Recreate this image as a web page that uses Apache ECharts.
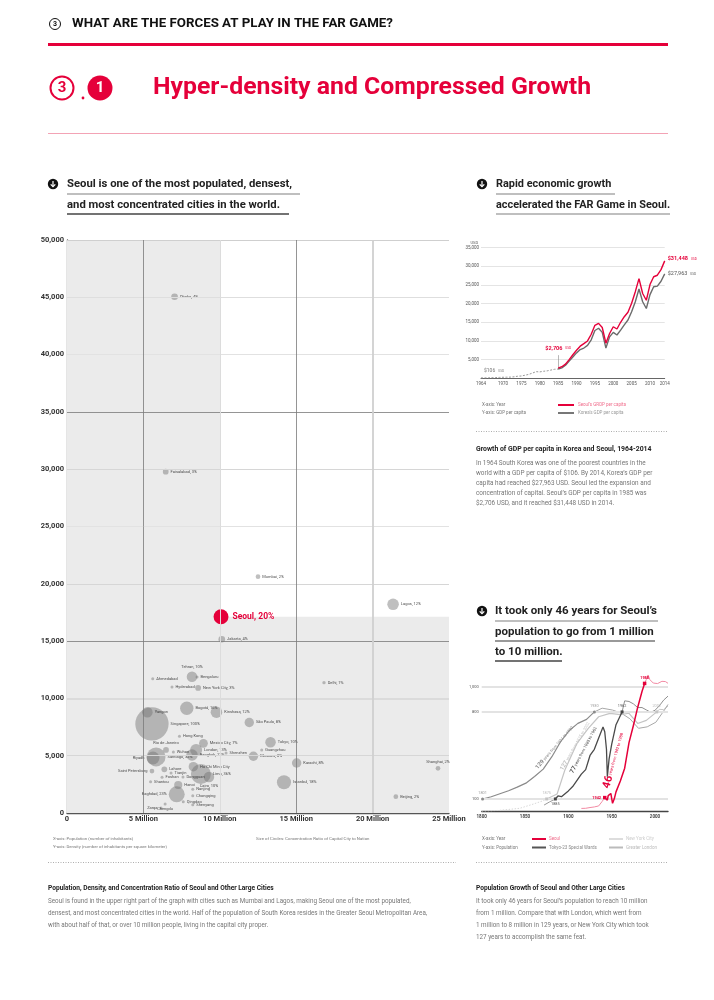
<!DOCTYPE html>
<html><head><meta charset="utf-8">
<script src="https://cdn.jsdelivr.net/npm/echarts@6/dist/echarts.min.js"></script>
<style>html,body{margin:0;padding:0;background:#fff}#c{width:714px;height:1000px}</style>
</head><body><div id="c"></div>
<script>
// ================= DATA =================
// Scatter: population (millions), density (inhabitants / km2), concentration ratio (%)
const cities = ['Dhaka','Faisalabad','Mumbai','Seoul','Jakarta','Lagos','Delhi','Tehran','Bengaluru','Ahmedabad','Hyderabad','New York City','Bogotá','Kinshasa','Yangon','Singapore','São Paulo','Hong Kong','Mexico City','Rio de Janeiro','Wuhan','London','Shenzhen','Guangzhou','Moscow','Tokyo','Karachi','Istanbul','Shanghai','Beijing','Riyadh','Santiago','Bangkok','Ho Chi Minh City','Lima','Dongguan','Cairo','Lahore','Tianjin','Foshan','Shantou','Saint Petersburg','Hanoi','Baghdad','Nanjing','Chongqing','Qingdao','Shenyang','Zarqa','Chengdu'];
const populationM = [7.04,6.46,12.5,10.08,10.13,21.34,16.82,8.18,8.51,5.61,6.87,8.58,7.84,9.78,5.26,5.56,11.93,7.36,8.93,6.48,6.96,8.45,10.41,12.74,12.2,13.32,15.03,14.2,24.28,21.52,5.63,5.83,8.18,8.27,8.76,7.59,9.29,6.37,6.81,6.22,5.47,5.56,7.28,7.18,8.23,8.23,7.61,8.23,6.15,6.42];
const density = [45050,29780,20620,17130,15160,18210,11370,11890,11870,11720,11000,10910,9140,8790,8790,7770,7900,6690,6080,5500,5320,5500,5240,5500,4950,6170,4360,2680,3900,1420,4800,4890,5060,4040,3400,3140,3140,3810,3490,3120,2730,3660,2440,1630,2070,1510,990,720,440,790];
const ratio = [4,3,2,20,4,12,1,10,null,null,null,3,16,12,10,100,8,null,7,3,null,13,null,null,8,10,8,18,2,2,15,32,12,8,36,null,10,3,null,null,null,2,6,23,null,null,null,null,null,null];
const pointLabels = ['Dhaka, 4%','Faisalabad, 3%','Mumbai, 2%','Seoul, 20%','Jakarta, 4%','Lagos, 12%','Delhi, 1%','Tehran, 10%','Bengaluru','Ahmedabad','Hyderabad','New York City, 3%','Bogotá, 16%','Kinshasa, 12%','Yangon','Singapore, 100%','São Paulo, 8%','Hong Kong','Mexico City, 7%','Rio de Janeiro','Wuhan','London, 13%','Shenzhen','Guangzhou','Moscow, 8%','Tokyo, 10%','Karachi, 8%','Istanbul, 18%','Shanghai, 2%','Beijing, 2%','Riyadh','Santiago, 32%','Bangkok, 12%','Ho Chi Minh City','Lima, 36%','Dongguan','Cairo, 10%','Lahore','Tianjin','Foshan','Shantou','Saint Petersburg','Hanoi','Baghdad, 23%','Nanjing','Chongqing','Qingdao','Shenyang','Zarqa','Chengdu'];
const scatterXTicks = [0,5,10,15,20,25];

// GDP per capita (USD)
const gdpYears = [1964,1965,1966,1967,1968,1969,1970,1971,1972,1973,1974,1975,1976,1977,1978,1979,1980,1981,1982,1983,1984,1985,1986,1987,1988,1989,1990,1991,1992,1993,1994,1995,1996,1997,1998,1999,2000,2001,2002,2003,2004,2005,2006,2007,2008,2009,2010,2011,2012,2013,2014];
const koreaGdp = [106,110,130,160,200,240,280,300,320,400,560,620,830,1050,1400,1780,1710,1880,1990,2200,2410,2480,2800,3500,4600,5700,6800,7700,8100,8800,10300,12800,13400,12300,8100,11100,12300,11600,12900,14300,15600,17800,20500,23900,20500,18700,22400,24500,24700,26000,27963];
const seoulGrdp = [null,null,null,null,null,null,null,null,null,null,null,null,null,null,null,null,null,null,null,null,null,2706,3100,3800,5000,6300,7500,8600,9300,10000,11800,14200,14700,13600,9400,12000,13800,13200,15000,16500,17700,20100,23200,26700,22700,20900,25100,27200,27600,29100,31448];
const gdpYearTicks = [1964,1970,1975,1980,1985,1990,1995,2000,2005,2010,2014];

// Population (unit: 10,000 people)
const seoulPop = [[1915,24],[1920,25],[1925,31],[1930,36],[1935,44],[1937,60],[1939,80],[1940,93],[1942,111],[1943,103],[1944,95],[1945,90],[1946,127],[1949,144],[1951,65],[1953,101],[1955,157],[1960,245],[1965,347],[1970,553],[1975,689],[1980,836],[1985,964],[1988,1029],[1990,1061],[1992,1097],[1994,1060],[1996,1047],[1998,1032],[2000,1037],[2003,1028],[2005,1030],[2008,1046],[2010,1057],[2012,1044],[2015,1030]];
const tokyoPop = [[1872,51],[1878,75],[1885,100],[1888,124],[1892,118],[1900,165],[1905,200],[1910,250],[1915,300],[1920,336],[1925,450],[1930,499],[1935,590],[1940,678],[1942,640],[1944,500],[1945,279],[1947,420],[1950,539],[1955,697],[1962,800],[1965,889],[1970,884],[1975,865],[1980,835],[1985,835],[1990,816],[1995,797],[2000,813],[2005,849],[2010,895],[2015,927]];
const londonPop = [[1801,100],[1811,118],[1821,142],[1831,166],[1841,195],[1851,227],[1861,280],[1871,340],[1881,440],[1891,560],[1901,650],[1911,708],[1921,740],[1930,800],[1939,830],[1951,815],[1961,790],[1971,745],[1981,668],[1991,680],[2001,717],[2011,817],[2015,860]];
const nycPop = [[1800,3],[1820,8],[1844,25],[1860,60],[1871,86],[1875,100],[1887,140],[1896,333],[1910,547],[1923,668],[1935,761],[1948,788],[1960,778],[1970,789],[1980,707],[1990,732],[2002,800],[2005,821],[2010,818],[2015,847]];
const popYearTicks = [1800,1850,1900,1950,2000];
const popValueTicks = [100,800,1000];
const milestones = {Seoul:[1942,1988], Tokyo:[1885,1962], London:[1801,1930], NYC:[1875,2002]};

// ================= CHART =================
const RED = '#e5003a';
const FONT = 'Roboto';
const chart = echarts.init(document.getElementById('c'), null, {width:714, height:1000});

const seoulIdx = cities.indexOf('Seoul');
const seoulX = populationM[seoulIdx], seoulY = density[seoulIdx];
const labelSide = {'Riyadh':'left','Baghdad, 23%':'left','Saint Petersburg':'left','Zarqa':'left','Tehran, 10%':'top','Rio de Janeiro':'top','Shanghai, 2%':'top','Chengdu':'bottom','Cairo, 10%':'bottom'};

const scatterData = cities.map((c,i)=>{
  const isSeoul = c==='Seoul';
  const item = {name:c, value:[populationM[i], density[i], ratio[i], pointLabels[i]]};
  item.label = {position: labelSide[pointLabels[i]] || 'right'};
  if (isSeoul) {
    item.itemStyle = {color:RED, opacity:1};
    item.label = {position:'right', fontSize:8.5, fontWeight:'bold', color:RED, distance:4};
  }
  return item;
});

const fmt = v => v.toLocaleString('en-US');
const lineMark = (axis, v, color, width) => ({[axis]:v, lineStyle:{color, width, type:'solid'}});
const split = (arr, a, b) => arr.filter(d=>d[0]>=a && d[0]<=b);

const option = {
  animation:false,
  textStyle:{fontFamily:FONT},
  grid:[
    {left:67, top:240, width:382, height:573},
    {left:481, top:247.6, width:183.7, height:130.7},
    {left:481.7, top:674.6, width:186.3, height:136.8}
  ],
  xAxis:[
    {gridIndex:0, type:'value', min:0, max:25, interval:5,
     axisLine:{show:true, lineStyle:{color:'#555', width:1.3}}, axisTick:{show:false}, splitLine:{show:false},
     axisLabel:{fontSize:7.5, fontWeight:'bold', color:'#333', margin:2, formatter:v=> v===0?'0': v+' Million'}},
    {gridIndex:1, type:'value', min:1964, max:2014,
     axisLine:{show:true, lineStyle:{color:'#666', width:1}}, axisTick:{show:false}, splitLine:{show:false},
     axisLabel:{customValues:gdpYearTicks, fontSize:4.5, color:'#555', margin:3, formatter:v=>String(v)}},
    {gridIndex:2, type:'value', min:1800, max:2015,
     axisLine:{show:true, lineStyle:{color:'#444', width:1.4}}, axisTick:{show:false}, splitLine:{show:false},
     axisLabel:{customValues:popYearTicks, fontSize:4.5, fontWeight:'bold', color:'#444', margin:3, formatter:v=>String(v)}}
  ],
  yAxis:[
    {gridIndex:0, type:'value', min:0, max:50000, interval:5000,
     axisLine:{show:true, lineStyle:{color:'#555', width:1.3}}, axisTick:{show:false}, splitLine:{show:false},
     axisLabel:{fontSize:7.5, fontWeight:'bold', color:'#333', margin:3, formatter:fmt}},
    {gridIndex:1, type:'value', min:0, max:35000, interval:5000,
     name:'USD', nameLocation:'end', nameGap:3, nameTextStyle:{fontSize:4, color:'#555', align:'right', padding:[0,3,0,0]},
     axisLine:{show:false}, axisTick:{show:false}, splitLine:{show:true, lineStyle:{color:'#e4e4e4', width:1}},
     axisLabel:{fontSize:4.5, color:'#555', margin:2, showMinLabel:false, formatter:fmt}},
    {gridIndex:2, type:'value', min:0, max:1100,
     axisLine:{show:false}, axisTick:{show:false}, splitLine:{show:false},
     axisLabel:{customValues:popValueTicks, fontSize:4, color:'#555', margin:3, formatter:fmt}}
  ],
  series:[
    {type:'scatter', xAxisIndex:0, yAxisIndex:0, data:[[0,0]], symbolSize:0, silent:true, z:1,
     markArea:{silent:true, itemStyle:{color:'#ebebeb'}, data:[
       [{coord:[0,0]},{coord:[seoulX,50000]}],
       [{coord:[seoulX,0]},{coord:[25,seoulY]}]
     ]}},
    {type:'scatter', xAxisIndex:0, yAxisIndex:0, data:[[0,0]], symbolSize:0, silent:true, z:2,
     markLine:{silent:true, symbol:'none', label:{show:false}, data:[
       lineMark('yAxis',5000,'#d6d6d6',1.2), lineMark('yAxis',10000,'#d6d6d6',1.5), lineMark('yAxis',20000,'#d6d6d6',1),
       lineMark('yAxis',25000,'#e2e2e2',1), lineMark('yAxis',30000,'#d6d6d6',1.2), lineMark('yAxis',40000,'#e2e2e2',1),
       lineMark('yAxis',45000,'#dedede',1), lineMark('yAxis',50000,'#cfcfcf',1),
       lineMark('yAxis',15000,'#7a7a7a',0.8), lineMark('yAxis',35000,'#7a7a7a',0.8),
       lineMark('xAxis',10,'#dcdcdc',1), lineMark('xAxis',20,'#d0d0d0',1.8),
       lineMark('xAxis',5,'#7a7a7a',0.8), lineMark('xAxis',15,'#7a7a7a',0.8)
     ]}},
    {type:'scatter', xAxisIndex:0, yAxisIndex:0, z:3, data:scatterData,
     symbolSize: v => v[2] ? 3.33*Math.sqrt(v[2]) : 3,
     itemStyle:{color:'rgba(110,110,110,0.55)'},
     label:{show:true, formatter:p=>p.value[3], fontSize:4, color:'#222', distance:2}},

    {type:'line', xAxisIndex:1, yAxisIndex:1, symbol:'none', data:gdpYears.map((y,i)=>[y,koreaGdp[i]]).filter(d=>d[0]<=1985),
     lineStyle:{color:'#999', width:1, type:[2,1.5]}, z:3,
     markPoint:{symbol:'circle', symbolSize:0, data:[{coord:[1964,106], label:{show:true, position:'right', offset:[-2,-7], formatter:'{a|$106} {b|USD}', rich:{a:{fontSize:5, color:'#777'}, b:{fontSize:3, color:'#777'}}}}]}},
    {type:'line', xAxisIndex:1, yAxisIndex:1, symbol:'none', data:gdpYears.map((y,i)=>[y,koreaGdp[i]]).filter(d=>d[0]>=1985),
     lineStyle:{color:'#6b6b6b', width:1.4}, z:4,
     endLabel:{show:true, distance:3, formatter:'{a|$27,963} {b|USD}', rich:{a:{fontSize:5.5, color:'#555'}, b:{fontSize:3, color:'#555'}}}},
    {type:'line', xAxisIndex:1, yAxisIndex:1, symbol:'none', data:gdpYears.map((y,i)=>[y,seoulGrdp[i]]).filter(d=>d[1]!=null),
     lineStyle:{color:RED, width:1.4}, z:5,
     endLabel:{show:true, distance:3, offset:[0,-2], formatter:'{a|$31,448} {b|USD}', rich:{a:{fontSize:5.5, color:RED, fontWeight:'bold'}, b:{fontSize:3, color:RED}}},
     markLine:{silent:true, symbol:'none', label:{show:false}, lineStyle:{color:'#888', width:0.6, type:'solid'}, data:[[{coord:[1985,2706]},{coord:[1985,6200]}]]},
     markPoint:{symbol:'circle', symbolSize:0, data:[{coord:[1985,6200], label:{show:true, position:'top', distance:1, formatter:'{a|$2,706} {b|USD}', rich:{a:{fontSize:5.5, color:RED, fontWeight:'bold'}, b:{fontSize:3, color:RED}}}}]}},

    {type:'line', xAxisIndex:2, yAxisIndex:2, data:[], silent:true, z:1,
     markLine:{silent:true, symbol:'none', label:{show:false}, lineStyle:{color:'#e3e3e3', width:2, type:'solid'},
       data: popValueTicks.map(v=>({yAxis:v}))}},
    {type:'line', xAxisIndex:2, yAxisIndex:2, symbol:'none', z:2, data:split(nycPop,1800,milestones.NYC[0]), lineStyle:{color:'#d8d8d8', width:1, type:[1.5,1.5]}},
    {type:'line', xAxisIndex:2, yAxisIndex:2, symbol:'none', z:3, data:split(nycPop,milestones.NYC[0],milestones.NYC[1]), lineStyle:{color:'#c4c4c4', width:1.2},
     markPoint:{symbol:'rect', symbolSize:3, itemStyle:{color:'#c4c4c4'}, data:milestones.NYC.map(y=>({coord:[y, y===milestones.NYC[0]?100:800], label:{show:true, position:'top', distance:2, formatter:String(y), fontSize:3.8, color:'#bbb'}}))}},
    {type:'line', xAxisIndex:2, yAxisIndex:2, symbol:'none', z:2, data:split(nycPop,milestones.NYC[1],2015), lineStyle:{color:'#c8c8c8', width:1}},
    {type:'line', xAxisIndex:2, yAxisIndex:2, symbol:'none', z:3, data:split(londonPop,milestones.London[0],milestones.London[1]), lineStyle:{color:'#8a8a8a', width:1.2},
     markPoint:{symbol:'circle', symbolSize:3, itemStyle:{color:'#8a8a8a'}, data:milestones.London.map(y=>({coord:[y, y===milestones.London[0]?100:800], label:{show:true, position:'top', distance:2, formatter:String(y), fontSize:3.8, color:'#999'}}))}},
    {type:'line', xAxisIndex:2, yAxisIndex:2, symbol:'none', z:2, data:split(londonPop,milestones.London[1],2015), lineStyle:{color:'#a8a8a8', width:1}},
    {type:'line', xAxisIndex:2, yAxisIndex:2, symbol:'none', z:2, data:split(tokyoPop,1800,milestones.Tokyo[0]), lineStyle:{color:'#999', width:1}},
    {type:'line', xAxisIndex:2, yAxisIndex:2, symbol:'none', z:4, data:split(tokyoPop,milestones.Tokyo[0],milestones.Tokyo[1]), lineStyle:{color:'#4a4a4a', width:1.3},
     markPoint:{symbol:'rect', symbolSize:3, itemStyle:{color:'#444'}, data:milestones.Tokyo.map((y,k)=>({coord:[y, k===0?100:800], label:{show:true, position:k===0?'bottom':'top', distance:2, formatter:String(y), fontSize:3.8, color:'#555'}}))}},
    {type:'line', xAxisIndex:2, yAxisIndex:2, symbol:'none', z:2, data:split(tokyoPop,milestones.Tokyo[1],2015), lineStyle:{color:'#8f8f8f', width:1}},
    {type:'line', xAxisIndex:2, yAxisIndex:2, symbol:'none', z:3, data:split(seoulPop,1800,milestones.Seoul[0]), lineStyle:{color:'#f28aa3', width:1}},
    {type:'line', xAxisIndex:2, yAxisIndex:2, symbol:'none', z:5, data:split(seoulPop,milestones.Seoul[0],milestones.Seoul[1]), lineStyle:{color:RED, width:1.5},
     markPoint:{symbol:'rect', symbolSize:3.5, itemStyle:{color:RED}, data:milestones.Seoul.map((y,k)=>({coord:[y, k===0?111:1029], label:{show:true, position:k===0?'left':'top', distance:2, formatter:String(y), fontSize:3.8, fontWeight:'bold', color:RED}}))}},
    {type:'line', xAxisIndex:2, yAxisIndex:2, symbol:'none', z:3, data:split(seoulPop,milestones.Seoul[1],2015), lineStyle:{color:'#f28aa3', width:1}}
  ]
};
chart.setOption(option);

// ================= TEXT / DECORATION =================
const G = [];
let gid = 0;
function T(x,y,text,size,color,weight,extra){
  G.push(Object.assign({type:'text', id:'t'+(gid++), x, y, silent:true, z:100,
    style:Object.assign({text, fontSize:size, fontFamily:FONT, fontWeight:weight||'normal', fill:color, textAlign:'left', textVerticalAlign:'middle', verticalAlign:'middle'}, extra&&extra.style||{})},
    extra&&extra.el||{}));
}
function L(x1,y1,x2,y2,color,w,dash){
  G.push({type:'line', id:'l'+(gid++), silent:true, z:100, shape:{x1,y1,x2,y2}, style:{stroke:color, lineWidth:w, lineDash:dash||null}});
}
function C(cx,cy,r,fill,stroke,w){
  G.push({type:'circle', id:'c'+(gid++), silent:true, z:100, shape:{cx,cy,r}, style:{fill:fill||'none', stroke:stroke||null, lineWidth:w||0}});
}
function bullet(cx,cy){
  C(cx,cy,5.2,'#111');
  L(cx,cy-3,cx,cy+2.6,'#fff',1.2);
  G.push({type:'polyline', id:'p'+(gid++), silent:true, z:101, shape:{points:[[cx-2.3,cy+0.3],[cx,cy+2.6],[cx+2.3,cy+0.3]]}, style:{stroke:'#fff', lineWidth:1.2, fill:null}});
}

// Header
C(55,24,5.5,'#fff','#111',1);
T(55,24.3,'3',7,'#111','bold',{style:{textAlign:'center'}});
T(72,24,'WHAT ARE THE FORCES AT PLAY IN THE FAR GAME?',13.3,'#111','bold');
L(48,44.5,668,44.5,RED,3);
C(62,88,11.5,'#fff',RED,2);
T(62,88.5,'3',15,RED,'bold',{style:{textAlign:'center'}});
C(83,98,1.4,RED);
C(100,88,12.5,RED);
T(100,88.5,'1',15,'#fff','bold',{style:{textAlign:'center'}});
T(153,88,'Hyper-density and Compressed Growth',24.8,RED,'bold');
L(48,133.5,668,133.5,'#f3a3b5',1);

// Subheads
bullet(53,184);
T(67,184,'Seoul is one of the most populated, densest,',11.3,'#222','bold');
L(67,194,300,194,'#aaa',1.5);
T(67,205,'and most concentrated cities in the world.',11.3,'#222','bold');
L(67,214,289,214,'#444',1.5);

bullet(482,184);
T(496,184,'Rapid economic growth',10.9,'#222','bold');
L(496,194,615,194,'#aaa',1.5);
T(496,205,'accelerated the FAR Game in Seoul.',10.9,'#222','bold');
L(496,214,670,214,'#aaa',1.5);

bullet(482,611);
T(495,611,'It took only 46 years for Seoul\u2019s',11.5,'#222','bold');
L(495,621,658,621,'#aaa',1.5);
T(495,632,'population to go from 1 million',11.5,'#222','bold');
L(495,641,655,641,'#777',1.5);
T(495,652,'to 10 million.',11.5,'#222','bold');
L(495,661,562,661,'#444',1.5);

// Scatter captions
T(53,839,'X-axis: Population (number of inhabitants)',4.3,'#777');
T(53,847,'Y-axis: Density (number of inhabitants per square kilometer)',4.3,'#777');
T(256,839,'Size of Circles: Concentration Ratio of Capital City to Nation',4.3,'#777');

// GDP legend
T(482,405,'X-axis: Year',4.5,'#777');
T(482,413,'Y-axis: GDP per capita',4.5,'#777');
L(558,405,574,405,RED,2);
T(578,405,'Seoul\u2019s GRDP per capita',4.5,'#f06d8c');
L(558,413,574,413,'#777',2);
T(578,413,'Korea\u2019s GDP per capita',4.5,'#999');

L(476,431.5,668,431.5,'#999',0.8,[1,1.5]);
T(476,449,'Growth of GDP per capita in Korea and Seoul, 1964-2014',6.9,'#222','bold');
['In 1964 South Korea was one of the poorest countries in the',
 'world with a GDP per capita of $106. By 2014, Korea\u2019s GDP per',
 'capita had reached $27,963 USD. Seoul led the expansion and',
 'concentration of capital. Seoul\u2019s GDP per capita in 1985 was',
 '$2,706 USD, and it reached $31,448 USD in 2014.'].forEach((s,i)=>T(476,463.3+i*10,s,6.4,'#777'));

// Population legend
T(482,839,'X-axis: Year',4.5,'#777');
T(482,847.5,'Y-axis: Population',4.5,'#777');
L(532,839,546,839,RED,2);
T(549,839,'Seoul',4.5,'#f06d8c');
L(532,847.5,546,847.5,'#555',2);
T(549,847.5,'Tokyo-23 Special Wards',4.5,'#888');
L(609,839,623,839,'#ddd',2);
T(626,839,'New York City',4.5,'#ccc');
L(609,847.5,623,847.5,'#bbb',2);
T(626,847.5,'Greater London',4.5,'#bbb');

// bottom
L(48,862.5,456,862.5,'#999',0.8,[1,1.5]);
L(476,862.5,668,862.5,'#999',0.8,[1,1.5]);
T(48,888,'Population, Density, and Concentration Ratio of Seoul and Other Large Cities',6.6,'#222','bold');
['Seoul is found in the upper right part of the graph with cities such as Mumbai and Lagos, making Seoul one of the most populated,',
 'densest, and most concentrated cities in the world. Half of the population of South Korea resides in the Greater Seoul Metropolitan Area,',
 'with about half of that, or over 10 million people, living in the capital city proper.'].forEach((s,i)=>T(48,901+i*12,s,6.3,'#777'));
T(476,888,'Population Growth of Seoul and Other Large Cities',6.6,'#222','bold');
['It took only 46 years for Seoul\u2019s population to reach 10 million',
 'from 1 million. Compare that with London, which went from',
 '1 million to 8 million in 129 years, or New York City which took',
 '127 years to accomplish the same feat.'].forEach((s,i)=>T(476,901+i*12,s,6.3,'#777'));

// rotated annotations anchored in data coordinates
function annot(yr,val,deg,big,rest,color,bigSize){
  const p = chart.convertToPixel({gridIndex:2},[yr,val]);
  G.push({type:'text', id:'a'+(gid++), x:p[0], y:p[1], rotation:deg*Math.PI/180, silent:true, z:100,
    style:{text:'{n|'+big+'}{t| '+rest+'}', textAlign:'left', textVerticalAlign:'bottom', verticalAlign:'bottom', fontFamily:FONT,
      rich:{n:{fontSize:bigSize, fontWeight:'bold', fill:color, fontFamily:FONT}, t:{fontSize:4, fill:color, fontFamily:FONT}}}});
}
annot(1866,330,49,'129','years from 1801 to 1930','#888',6);
annot(1895,320,60,'127','years from 1875 to 2002','#c4c4c4',6);
annot(1907,300,62,'77','years from 1885 to 1962','#444',6);
annot(1950,175,74,'46','years from 1942 to 1988',RED,11);

chart.setOption({graphic:G});
</script></body></html>
